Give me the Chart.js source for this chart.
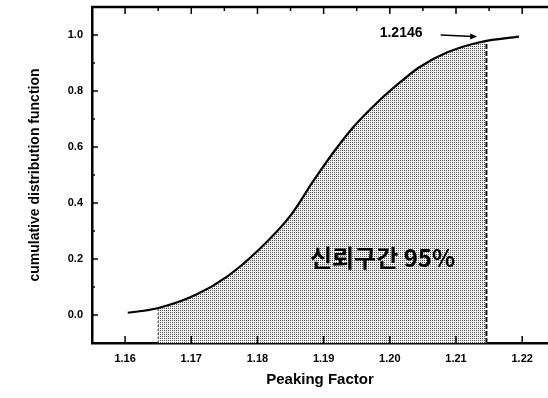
<!DOCTYPE html>
<html>
<head>
<meta charset="utf-8">
<script src="https://cdn.jsdelivr.net/npm/chart.js@4.4.0/dist/chart.umd.min.js"></script>
<style>
html,body{margin:0;padding:0;background:#fff;}
#wrap{width:548px;height:398px;position:relative;}
</style>
</head>
<body>
<div id="wrap"><canvas id="c" width="548" height="398"></canvas></div>
<script>
// ---- data ----
const curveX = [1.1604, 1.1649, 1.1707, 1.1754, 1.1802, 1.1849, 1.1886, 1.1918, 1.1944, 1.1981, 1.2018, 1.2044, 1.2087, 1.2139, 1.2195];
const curveY = [0.008, 0.024, 0.072, 0.137, 0.233, 0.352, 0.484, 0.591, 0.669, 0.759, 0.836, 0.884, 0.938, 0.976, 0.994];
const shadeFrom = 1.165;   // lower bound of shaded interval
const shadeTo = 1.2146;    // upper bound (95%)
const shadeFromY = 0.025;
const shadeToY = 0.977;
const xTicks = [1.16, 1.17, 1.18, 1.19, 1.20, 1.21, 1.22];
const yTicks = [0.0, 0.2, 0.4, 0.6, 0.8, 1.0];
const xTitle = 'Peaking Factor';
const yTitle = 'cumulative distribution function';
const intervalLabel = '신뢰구간 95%';
const valueLabel = '1.2146';

const X_MIN = 1.155, X_MAX = 1.2239, Y_MIN = -0.1, Y_MAX = 1.1;

const curve = curveX.map((x, i) => ({x: x, y: curveY[i]}));
// shaded region: the curve restricted to [shadeFrom, shadeTo]
const shade = [{x: shadeFrom, y: shadeFromY}]
  .concat(curve.filter(p => p.x > shadeFrom + 0.0005 && p.x < shadeTo - 0.0005))
  .concat([{x: shadeTo, y: shadeToY}]);

// dotted fill pattern
const pc = document.createElement('canvas');
pc.width = 2; pc.height = 2;
const pctx = pc.getContext('2d');
pctx.fillStyle = '#f0f0f0'; pctx.fillRect(0, 0, 2, 2);
pctx.fillStyle = '#555555'; pctx.fillRect(0, 0, 1, 1);
const ctxMain = document.getElementById('c').getContext('2d');
const pattern = ctxMain.createPattern(pc, 'repeat');

const decor = {
  id: 'decor',
  afterDraw(chart) {
    const c = chart.ctx, xs = chart.scales.x, ys = chart.scales.y, a = chart.chartArea;
    c.save();
    c.strokeStyle = '#000';
    // top frame line
    c.lineWidth = 2.5;
    c.beginPath(); c.moveTo(a.left - 1, a.top); c.lineTo(chart.width, a.top); c.stroke();
    c.lineWidth = 1.5;
    // y ticks inward (major + minor)
    for (let k = -1; k <= 11; k++) {
      const v = k / 10;
      const py = ys.getPixelForValue(v);
      if (py < a.top + 2 || py > a.bottom - 2) continue;
      const major = (k % 2 === 0);
      c.beginPath(); c.moveTo(a.left, py); c.lineTo(a.left + (major ? 6 : 3), py); c.stroke();
    }
    // x ticks: bottom (major) and top (major+minor), inward
    for (let k = 0; k <= 13; k++) {
      const v = 1.16 + k * 0.005;
      const px = xs.getPixelForValue(v);
      if (px > a.right - 2) continue;
      const major = (k % 2 === 0);
      c.beginPath(); c.moveTo(px, a.top); c.lineTo(px, a.top + (major ? 7 : 4)); c.stroke();
      if (major) { c.beginPath(); c.moveTo(px, a.bottom); c.lineTo(px, a.bottom - 7); c.stroke(); }
    }
    // value label + arrow
    c.fillStyle = '#000';
    c.font = 'bold 14px "Liberation Sans", Arial, sans-serif';
    c.textAlign = 'center'; c.textBaseline = 'middle';
    c.fillText(valueLabel, xs.getPixelForValue(1.2017), ys.getPixelForValue(1.005));
    const x1 = xs.getPixelForValue(1.2077), y1 = ys.getPixelForValue(1.0);
    const x2 = xs.getPixelForValue(1.2132), y2 = ys.getPixelForValue(0.995);
    c.lineWidth = 1.5;
    c.beginPath(); c.moveTo(x1, y1); c.lineTo(x2 - 4, y2); c.stroke();
    c.beginPath(); c.moveTo(x2, y2); c.lineTo(x2 - 7, y2 - 3); c.lineTo(x2 - 7, y2 + 3); c.closePath(); c.fill();
    // interval label
    c.font = 'bold 24px "Noto Sans CJK KR", sans-serif';
    c.fillText(intervalLabel, xs.getPixelForValue(1.1989), ys.getPixelForValue(0.205));
    c.restore();
  }
};

new Chart(ctxMain, {
  type: 'line',
  data: {
    datasets: [
      { // curve
        data: curve, borderColor: '#000', borderWidth: 2.2, pointRadius: 0, fill: false,
        cubicInterpolationMode: 'monotone', order: 0
      },
      { // left edge of interval
        data: [{x: shadeFrom, y: Y_MIN}, {x: shadeFrom, y: shadeFromY}],
        borderColor: '#555', borderWidth: 1.2, borderDash: [2, 2], pointRadius: 0, fill: false, order: 1
      },
      { // right edge of interval
        data: [{x: shadeTo, y: Y_MIN}, {x: shadeTo, y: shadeToY}],
        borderColor: '#111', borderWidth: 2, borderDash: [5, 2], pointRadius: 0, fill: false, order: 1
      },
      { // shaded area
        data: shade, borderWidth: 0, borderColor: 'rgba(0,0,0,0)', pointRadius: 0, fill: 'start',
        backgroundColor: pattern, cubicInterpolationMode: 'monotone', order: 5
      }
    ]
  },
  options: {
    responsive: false,
    animation: false,
    layout: {padding: {top: 7, right: 0, left: 0, bottom: 0}},
    plugins: {legend: {display: false}, tooltip: {enabled: false}},
    scales: {
      x: {
        type: 'linear', position: 'bottom', min: X_MIN, max: X_MAX,
        afterBuildTicks: s => { s.ticks = xTicks.map(v => ({value: v})); },
        afterFit: s => { s.height = 55; s.paddingLeft = 0; s.paddingRight = 0; },
        grid: {display: false, drawTicks: false},
        border: {display: true, color: '#000', width: 2.5},
        ticks: {
          color: '#000', padding: 9, maxRotation: 0, autoSkip: false,
          font: {family: '"Liberation Sans", Arial, sans-serif', size: 11, weight: 'bold'},
          callback: v => Number(v).toFixed(2)
        },
        title: {
          display: true, text: xTitle, color: '#000',
          font: {family: '"Liberation Sans", Arial, sans-serif', size: 15, weight: 'bold'},
          padding: {top: 0, bottom: 9}
        }
      },
      y: {
        type: 'linear', position: 'left', min: Y_MIN, max: Y_MAX,
        afterBuildTicks: s => { s.ticks = yTicks.map(v => ({value: v})); },
        afterFit: s => { s.width = 92; s.paddingTop = 0; s.paddingBottom = 0; },
        grid: {display: false, drawTicks: false},
        border: {display: true, color: '#000', width: 2.5},
        ticks: {
          color: '#000', padding: 9,
          font: {family: '"Liberation Sans", Arial, sans-serif', size: 11, weight: 'bold'},
          callback: v => Number(v).toFixed(1)
        },
        title: {
          display: true, text: yTitle, color: '#000',
          font: {family: '"Liberation Sans", Arial, sans-serif', size: 14, weight: 'bold'},
          padding: {top: 27, bottom: 0}
        }
      }
    }
  },
  plugins: [decor]
});
</script>
</body>
</html>
